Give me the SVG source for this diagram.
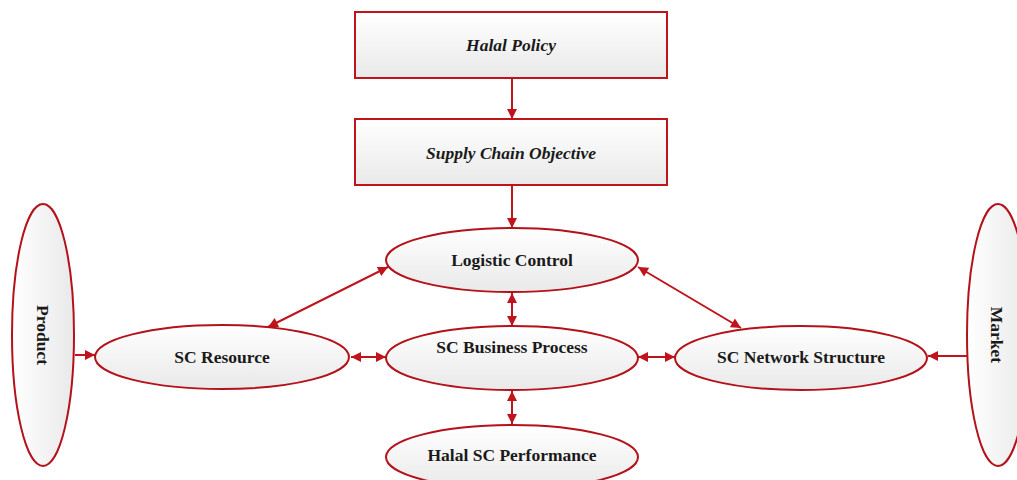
<svg xmlns="http://www.w3.org/2000/svg" width="1017" height="480" viewBox="0 0 1017 480">
  <defs>
    <linearGradient id="fillGrad" x1="0" y1="0" x2="0" y2="1">
      <stop offset="0" stop-color="#ffffff"/>
      <stop offset="1" stop-color="#e9e9e9"/>
    </linearGradient>
    <linearGradient id="fillGradH" x1="0" y1="0" x2="1" y2="0">
      <stop offset="0" stop-color="#ffffff"/>
      <stop offset="1" stop-color="#e9e9e9"/>
    </linearGradient>
    <marker id="arrow" viewBox="0 0 10 10" refX="10" refY="5" markerWidth="11" markerHeight="10" markerUnits="userSpaceOnUse" orient="auto-start-reverse">
      <path d="M0,0 L10,5 L0,10 Z" fill="#c0141c"/>
    </marker>
  </defs>
  <style>
    .box { fill: url(#fillGrad); stroke: #c0141c; stroke-width: 2; }
    .oval { fill: url(#fillGrad); stroke: #b3121a; stroke-width: 2; }
    .ovalv { fill: url(#fillGradH); stroke: #b3121a; stroke-width: 2; }
    .lbl { font-family: "Liberation Serif", "Times New Roman", serif; font-weight: bold; font-size: 17.5px; fill: #1a1a1a; text-anchor: middle; }
    .it { font-style: italic; }
    .link { stroke: #c0141c; stroke-width: 2; fill: none; }
    .one { marker-end: url(#arrow); }
    .two { marker-start: url(#arrow); marker-end: url(#arrow); }
  </style>

  <g id="connectors">
    <line class="link one" x1="512" y1="78" x2="512" y2="119"/>
    <line class="link one" x1="512" y1="185" x2="512" y2="228"/>
    <line class="link two" x1="512" y1="293" x2="512" y2="326"/>
    <line class="link two" x1="512" y1="391" x2="512" y2="424"/>
    <line class="link two" x1="351" y1="357" x2="386" y2="357"/>
    <line class="link two" x1="638" y1="357" x2="675" y2="357"/>
    <line class="link two" x1="388" y1="267" x2="268" y2="327"/>
    <line class="link two" x1="638" y1="267" x2="741" y2="328"/>
    <line class="link one" x1="75" y1="355" x2="95" y2="355"/>
    <line class="link one" x1="967" y1="356" x2="928" y2="356"/>
  </g>

  <g id="halal-policy">
    <rect class="box" x="355" y="12" width="312" height="66"/>
    <text class="lbl it" x="511" y="51">Halal Policy</text>
  </g>

  <g id="supply-chain-objective">
    <rect class="box" x="355" y="119" width="312" height="66"/>
    <text class="lbl it" x="511" y="159">Supply Chain Objective</text>
  </g>

  <g id="logistic-control">
    <ellipse class="oval" cx="512" cy="260" rx="126" ry="32"/>
    <text class="lbl" x="512" y="266">Logistic Control</text>
  </g>

  <g id="sc-business-process">
    <ellipse class="oval" cx="512" cy="358" rx="126" ry="32"/>
    <text class="lbl" x="512" y="353">SC Business Process</text>
  </g>

  <g id="halal-sc-performance">
    <ellipse class="oval" cx="512" cy="457" rx="126" ry="32"/>
    <text class="lbl" x="512" y="461">Halal SC Performance</text>
  </g>

  <g id="sc-resource">
    <ellipse class="oval" cx="222" cy="357" rx="127" ry="32"/>
    <text class="lbl" x="222" y="363">SC Resource</text>
  </g>

  <g id="sc-network-structure">
    <ellipse class="oval" cx="801" cy="358" rx="126" ry="32"/>
    <text class="lbl" x="801" y="363">SC Network Structure</text>
  </g>

  <g id="product">
    <ellipse class="ovalv" cx="43" cy="335" rx="31" ry="131"/>
    <text class="lbl" transform="translate(37,335) rotate(90)">Product</text>
  </g>

  <g id="market">
    <ellipse class="ovalv" cx="998" cy="335" rx="31" ry="131"/>
    <text class="lbl" transform="translate(991,335) rotate(90)">Market</text>
  </g>
</svg>
